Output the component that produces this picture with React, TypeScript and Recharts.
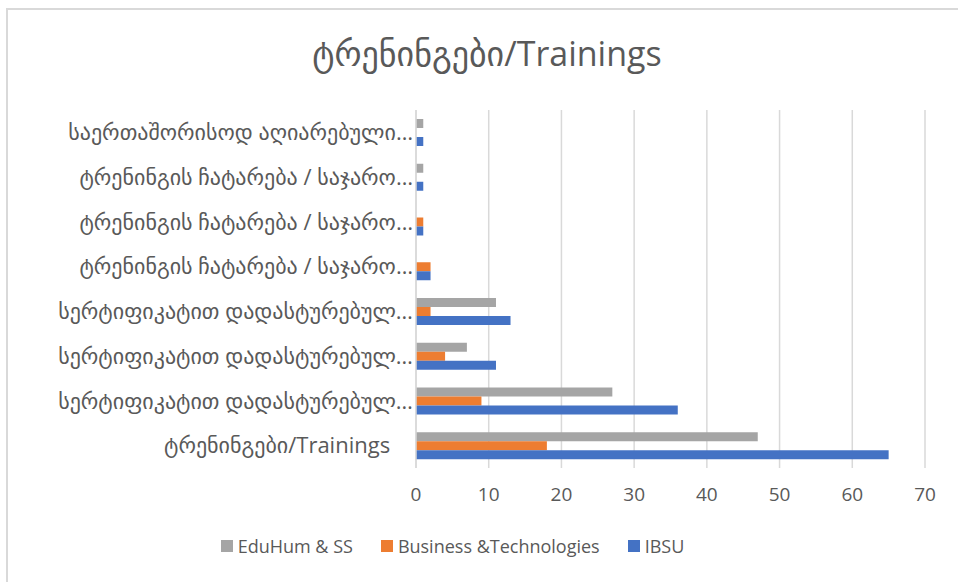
import React from 'react';
import { BarChart, Bar, XAxis, YAxis, CartesianGrid, Legend } from 'recharts';

const categories = [
  'საერთაშორისოდ აღიარებული…',
  'ტრენინგის ჩატარება / საჯარო…',
  'ტრენინგის ჩატარება / საჯარო…',
  'ტრენინგის ჩატარება / საჯარო…',
  'სერტიფიკატით დადასტურებულ…',
  'სერტიფიკატით დადასტურებულ…',
  'სერტიფიკატით დადასტურებულ…',
  'ტრენინგები/Trainings\u00a0\u00a0\u00a0\u00a0',
];
const eduHum = [1, 1, 0, 0, 11, 7, 27, 47];
const business = [0, 0, 1, 2, 2, 4, 9, 18];
const ibsu = [1, 1, 1, 2, 13, 11, 36, 65];
const xTicks = [0, 10, 20, 30, 40, 50, 60, 70];

const series = [
  { key: 'edu', name: 'EduHum & SS', color: '#a5a5a5' },
  { key: 'bus', name: 'Business &Technologies', color: '#ed7d31' },
  { key: 'ibsu', name: 'IBSU', color: '#4472c4' },
];

const data = categories.map((name, i) => ({
  key: i,
  name,
  edu: eduHum[i],
  bus: business[i],
  ibsu: ibsu[i],
}));

const font = "'Open Sans', 'DejaVu Sans', sans-serif";
const textColor = '#595959';

const renderLegend = () => (
  <div style={{ display: 'flex', justifyContent: 'center', paddingRight: 20, fontSize: 18, fontFamily: font, color: textColor }}>
    {series.map((s) => (
      <div key={s.key} style={{ display: 'flex', alignItems: 'center', margin: '0 14px' }}>
        <span style={{ display: 'inline-block', width: 12, height: 12, background: s.color, marginRight: 5 }} />
        <span>{s.name}</span>
      </div>
    ))}
  </div>
);

const App: React.FC = () => {
  return (
    <div style={{ position: 'absolute', left: 0, top: 0, width: 958, height: 582, background: '#fff', fontFamily: font }}>
      <div
        style={{
          position: 'absolute', left: 6, top: 8, width: 960, height: 580,
          borderLeft: '2px solid #d9d9d9', borderTop: '2px solid #d9d9d9',
        }}
      />
      <div
        style={{
          position: 'absolute', left: 0, width: 974, top: 30, textAlign: 'center',
          fontSize: 34, color: textColor,
        }}
      >
        ტრენინგები/Trainings
      </div>
      <div style={{ position: 'absolute', left: 0, top: 0 }}>
        <BarChart
          width={958}
          height={582}
          layout="vertical"
          data={data}
          margin={{ top: 110, right: 33, left: 0, bottom: 40 }}
          barGap={0}
          barSize={9}
        >
          <CartesianGrid horizontal={false} stroke="#d9d9d9" strokeWidth={1.5} />
          <XAxis
            type="number"
            domain={[0, 70]}
            ticks={xTicks}
            axisLine={false}
            tickLine={false}
            tick={{ fill: textColor, fontSize: 19, fontFamily: font }}
            tickMargin={14}
            height={50}
          />
          <YAxis
            type="category"
            dataKey="key"
            width={416}
            tickFormatter={(v: number) => categories[v]}
            axisLine={{ stroke: '#d9d9d9', strokeWidth: 1.5 }}
            tickLine={false}
            tickSize={0}
            tickMargin={3}
            tick={{ fill: textColor, fontSize: 22, fontFamily: font }}
            interval={0}
          />
          {series.map((s) => (
            <Bar key={s.key} dataKey={s.key} name={s.name} fill={s.color} isAnimationActive={false} />
          ))}
          <Legend
            verticalAlign="bottom"
            align="center"
            content={renderLegend}
            wrapperStyle={{ bottom: 24 }}
          />
        </BarChart>
      </div>
    </div>
  );
};

export default App;
